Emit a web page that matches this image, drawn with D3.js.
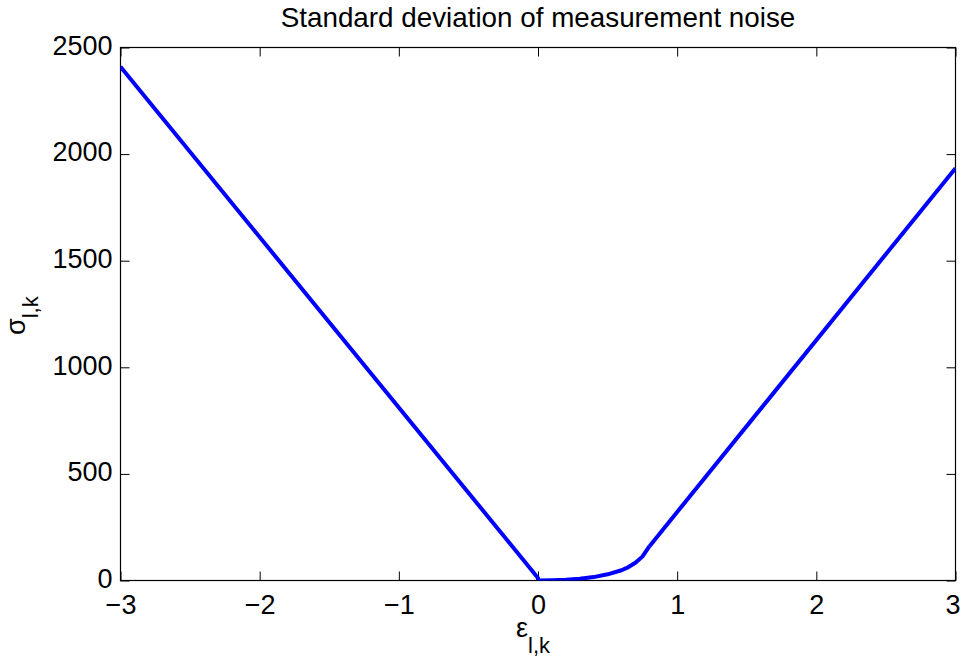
<!DOCTYPE html>
<html>
<head>
<meta charset="utf-8">
<script src="https://cdn.jsdelivr.net/npm/d3@7"></script>
<style>
  html, body { margin: 0; padding: 0; background: #fff; }
  svg { display: block; font-family: "Liberation Sans", Arial, Helvetica, sans-serif; }
</style>
</head>
<body>
<svg id="chart" width="962" height="661"></svg>
<script>
// Noise standard deviation sigma(l,k) versus error epsilon(l,k)
const leftEps   = [-3, 0, 0];
const leftSigma = [2410, 12, 0];

const midEps   = [0, 0.1, 0.2, 0.3, 0.4, 0.5, 0.6, 0.65, 0.7, 0.75, 0.8];
const midSigma = [0, 1, 3, 8, 16, 29, 48, 63, 83, 112, 160];

const rightEps   = [0.8, 3];
const rightSigma = [160, 1934];

const xTicks = [-3, -2, -1, 0, 1, 2, 3];
const yTicks = [0, 500, 1000, 1500, 2000, 2500];

const titleText = "Standard deviation of measurement noise";

const svg = d3.select("#chart");
const box = { left: 120.5, right: 955.5, top: 47.5, bottom: 580.5 };

const x = d3.scaleLinear().domain([-3, 3]).range([box.left, box.right]);
const y = d3.scaleLinear().domain([0, 2500]).range([box.bottom, box.top]);

const fontSize = 27;
const tickLen = 9;

// axis frame
svg.append("rect")
  .attr("x", box.left).attr("y", box.top)
  .attr("width", box.right - box.left).attr("height", box.bottom - box.top)
  .attr("fill", "none").attr("stroke", "#000").attr("stroke-width", 1.2);

// bottom/left axes with inward ticks
const xAxis = d3.axisBottom(x).tickValues(xTicks).tickSize(-tickLen)
  .tickFormat(d => d < 0 ? "\u2212" + Math.abs(d) : String(d));
const yAxis = d3.axisLeft(y).tickValues(yTicks).tickSize(-tickLen).tickPadding(8)
  .tickFormat(d3.format("d"));

const gx = svg.append("g").attr("transform", `translate(0,${box.bottom})`).call(xAxis);
const gy = svg.append("g").attr("transform", `translate(${box.left},0)`).call(yAxis);

// mirrored ticks on top and right
const gxTop = svg.append("g").attr("transform", `translate(0,${box.top})`)
  .call(d3.axisTop(x).tickValues(xTicks).tickSize(-tickLen).tickFormat(""));
const gyRight = svg.append("g").attr("transform", `translate(${box.right},0)`)
  .call(d3.axisRight(y).tickValues(yTicks).tickSize(-tickLen).tickFormat(""));

[gx, gy, gxTop, gyRight].forEach(g => {
  g.select(".domain").remove();
  g.selectAll(".tick line").attr("stroke", "#000").attr("stroke-width", 1);
  g.selectAll(".tick text").attr("fill", "#000").attr("font-size", fontSize)
    .attr("font-family", "Liberation Sans, Arial, sans-serif");
});
gx.selectAll(".tick text").attr("y", 33.5).attr("dy", 0);
// keep the last x label inside the page edge
gx.selectAll(".tick text").filter(d => d === xTicks[xTicks.length - 1]).attr("dx", -3);
gy.selectAll(".tick text").attr("dy", "0.25em");

// curve
const line = d3.line().x(d => x(d[0])).y(d => y(d[1]));
const segments = [
  d3.zip(leftEps, leftSigma),
  d3.zip(midEps, midSigma),
  d3.zip(rightEps, rightSigma)
];
svg.append("clipPath").attr("id", "plotClip")
  .append("rect").attr("x", box.left).attr("y", box.top - 2)
  .attr("width", box.right - box.left).attr("height", box.bottom - box.top + 2);

svg.append("g").attr("clip-path", "url(#plotClip)")
  .selectAll("path").data(segments).join("path")
  .attr("d", line)
  .attr("fill", "none")
  .attr("stroke", "#0000ff")
  .attr("stroke-width", 4)
  .attr("stroke-linejoin", "round");

// title
svg.append("text")
  .attr("x", (box.left + box.right) / 2).attr("y", 27)
  .attr("text-anchor", "middle").attr("font-size", 27.8).attr("fill", "#000")
  .text(titleText);

// x label: epsilon with subscript l,k
const xl = svg.append("text")
  .attr("x", 516).attr("y", 637)
  .attr("font-size", 27).attr("fill", "#000");
xl.append("tspan").text("\u03B5");
xl.append("tspan").attr("font-size", 22).attr("dy", 16).text("l,k");

// y label: sigma with subscript l,k
const yl = svg.append("text")
  .attr("transform", "translate(25, 335) rotate(-90)")
  .attr("font-size", 27).attr("fill", "#000");
yl.append("tspan").text("\u03C3");
yl.append("tspan").attr("font-size", 22).attr("dy", 13).text("l,k");
</script>
</body>
</html>
